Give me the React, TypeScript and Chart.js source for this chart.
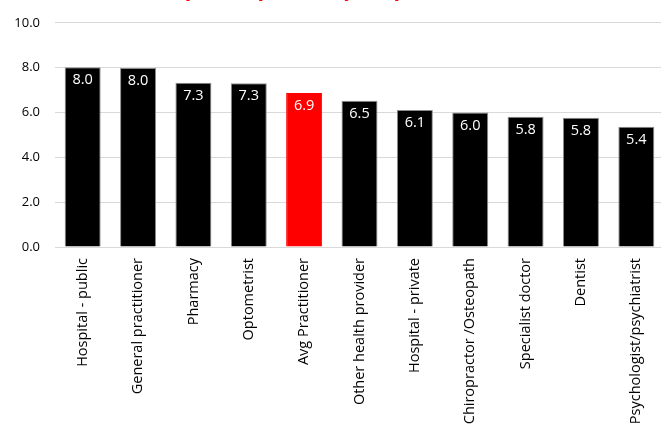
import React, { useEffect, useRef } from "react";
import { Chart, registerables } from "chart.js";

Chart.register(...registerables);

const categories = [
  "Hospital - public",
  "General practitioner",
  "Pharmacy",
  "Optometrist",
  "Avg Practitioner",
  "Other health provider",
  "Hospital - private",
  "Chiropractor /Osteopath",
  "Specialist doctor",
  "Dentist",
  "Psychologist/psychiatrist",
];
const scores = [8.02, 7.98, 7.33, 7.3, 6.87, 6.52, 6.11, 6.0, 5.81, 5.76, 5.36];
const highlightIndex = 4;
const yTicks = [0, 2, 4, 6, 8, 10];
const titleText = "(0 = Very unlikely, 10 = Very likely)";

const FONT = "'Open Sans', 'Noto Sans', sans-serif";

const labelPlugin = {
  id: "valueLabels",
  afterDatasetsDraw(chart: any) {
    const ctx = chart.ctx;
    const meta = chart.getDatasetMeta(0);
    ctx.save();
    ctx.fillStyle = "#ffffff";
    ctx.font = `14.5px ${FONT}`;
    ctx.textAlign = "center";
    ctx.textBaseline = "middle";
    meta.data.forEach((bar: any, i: number) => {
      ctx.fillText(scores[i].toFixed(1), bar.x, bar.y + 13);
    });
    ctx.restore();
  },
};

const titlePlugin = {
  id: "clippedTitle",
  afterDraw(chart: any) {
    const ctx = chart.ctx;
    ctx.save();
    ctx.fillStyle = "#ff0000";
    ctx.font = `bold 17px ${FONT}`;
    ctx.textAlign = "left";
    ctx.textBaseline = "alphabetic";
    ctx.fillText(titleText, 123, -3);
    ctx.restore();
  },
};

export default function App() {
  const ref = useRef<HTMLCanvasElement>(null);
  useEffect(() => {
    if (!ref.current) return;
    const chart = new Chart(ref.current, {
      type: "bar",
      data: {
        labels: categories,
        datasets: [
          {
            data: scores,
            backgroundColor: scores.map((_, i) => (i === highlightIndex ? "#ff0000" : "#000000")),
            borderColor: scores.map((_, i) => (i === highlightIndex ? "#ff0000" : "#8c8c8c")),
            borderWidth: 1,
            barPercentage: 0.65,
            categoryPercentage: 1,
          },
        ],
      },
      options: {
        responsive: false,
        animation: false,
        devicePixelRatio: 1,
        layout: { padding: { top: 20, left: 0, right: 6, bottom: 0 } },
        plugins: {
          legend: { display: false },
          tooltip: { enabled: false },
          title: { display: false },
        },
        scales: {
          x: {
            grid: { display: false, drawTicks: false },
            border: { display: true, color: "#d9d9d9", width: 1 },
            ticks: {
              autoSkip: false,
              maxRotation: 90,
              minRotation: 90,
              padding: 11,
              color: "#000000",
              font: { family: FONT, size: 14.5 },
            },
            afterFit(scale: any) {
              scale.height = 185;
            },
          },
          y: {
            min: 0,
            max: 10,
            afterBuildTicks(scale: any) {
              scale.ticks = yTicks.map((v) => ({ value: v }));
            },
            grid: { color: "#d9d9d9", drawTicks: false, lineWidth: 1 },
            border: { display: false },
            ticks: {
              padding: 15,
              color: "#000000",
              font: { family: FONT, size: 13 },
              callback: (v: any) => Number(v).toFixed(1),
            },
            afterFit(scale: any) {
              scale.width = 55;
            },
          },
        },
      },
      plugins: [labelPlugin, titlePlugin],
    });
    return () => chart.destroy();
  }, []);
  return (
    <div style={{ position: "fixed", left: 0, top: 0, width: 661, height: 432, overflow: "hidden", background: "#fff" }}>
      <canvas ref={ref} width={670} height={432} style={{ display: "block" }} />
    </div>
  );
}
